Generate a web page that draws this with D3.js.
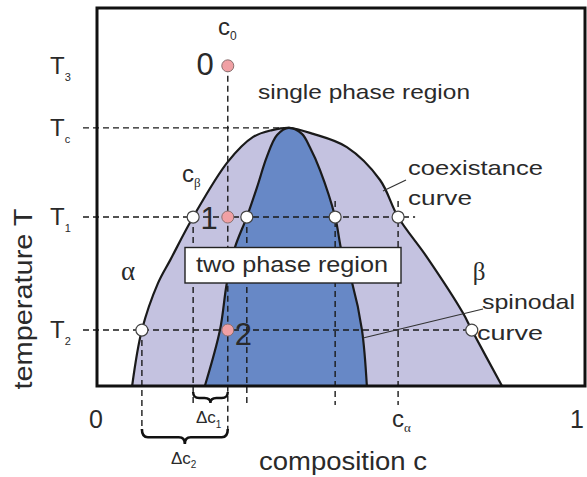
<!DOCTYPE html>
<html>
<head>
<meta charset="utf-8">
<script src="https://cdn.jsdelivr.net/npm/d3@7"></script>
<style>
  html, body { margin: 0; padding: 0; background: #fff; }
  svg { display: block; }
  text { font-family: "Liberation Sans", Arial, sans-serif; fill: #2a2a2a; }
  .serif { font-family: "Liberation Serif", "DejaVu Serif", serif; }
</style>
</head>
<body>
<script>
// Miscibility gap: coexistence (binodal) and spinodal curves, composition c vs temperature T
const coexistenceCurve = [
  [0.072, 0.000], [0.092, 0.148], [0.125, 0.272], [0.150, 0.333], [0.197, 0.447],
  [0.268, 0.593], [0.320, 0.659], [0.359, 0.677], [0.393, 0.683], [0.443, 0.667],
  [0.512, 0.632], [0.580, 0.545], [0.617, 0.447], [0.676, 0.341], [0.750, 0.193],
  [0.768, 0.148], [0.830, 0.000]
];
const spinodalCurve = [
  [0.221, 0.000], [0.252, 0.148], [0.266, 0.272], [0.283, 0.368], [0.307, 0.447],
  [0.328, 0.526], [0.348, 0.606], [0.369, 0.664], [0.393, 0.683], [0.420, 0.667],
  [0.436, 0.632], [0.457, 0.571], [0.488, 0.447], [0.502, 0.352], [0.523, 0.272],
  [0.543, 0.148], [0.553, 0.000]
];

// temperature levels and their labels
const tempNames  = ["3", "c", "1", "2"];
const tempValues = [0.847, 0.683, 0.447, 0.148];
const T3 = tempValues[0], Tc = tempValues[1], T1 = tempValues[2], T2 = tempValues[3];
const cPeak = 0.393;

// alloy composition and the phase-boundary compositions at T1 and T2
const c0 = 0.268;
const boundaryT1 = [0.197, 0.307, 0.488, 0.617];   // c_beta, spinodal left, spinodal right, c_alpha
const boundaryT2 = [0.092, 0.768];
const statePoints = [ {name: "0", T: T3}, {name: "1", T: T1}, {name: "2", T: T2} ];

const W = 587, H = 477;
const svg = d3.select("body").append("svg").attr("width", W).attr("height", H);

const x = d3.scaleLinear().domain([0, 1]).range([97, 585]);
const y = d3.scaleLinear().domain([0, 1]).range([386, 8]);

const line = d3.line().x(d => x(d[0])).y(d => y(d[1])).curve(d3.curveCatmullRom.alpha(0.5));

// filled regions
svg.append("path").attr("d", line(coexistenceCurve) + "Z").attr("fill", "#c4c2e0");
svg.append("path").attr("d", line(spinodalCurve) + "Z").attr("fill", "#6788c6");
// curve outlines
svg.append("path").attr("d", line(coexistenceCurve)).attr("fill", "none")
  .attr("stroke", "#1a1a1a").attr("stroke-width", 2.2);
svg.append("path").attr("d", line(spinodalCurve)).attr("fill", "none")
  .attr("stroke", "#1a1a1a").attr("stroke-width", 2.2);

const dash = g => g.attr("stroke", "#1a1a1a").attr("stroke-width", 1.4)
  .attr("stroke-dasharray", "6,4").attr("fill", "none");

// horizontal guide lines
const axisLeft = x(0) - 14;
svg.append("line").call(dash).attr("x1", axisLeft).attr("x2", x(cPeak)).attr("y1", y(Tc)).attr("y2", y(Tc));
svg.append("line").call(dash).attr("x1", axisLeft).attr("x2", x(boundaryT1[3]) + 17).attr("y1", y(T1)).attr("y2", y(T1));
svg.append("line").call(dash).attr("x1", axisLeft).attr("x2", x(boundaryT2[1])).attr("y1", y(T2)).attr("y2", y(T2));

// vertical guide lines
svg.append("line").call(dash).attr("x1", x(c0)).attr("x2", x(c0)).attr("y1", y(T3)).attr("y2", 430);
svg.append("line").call(dash).attr("x1", x(boundaryT2[0])).attr("x2", x(boundaryT2[0])).attr("y1", y(T2)).attr("y2", 430);
boundaryT1.forEach((c, i) => {
  svg.append("line").call(dash).attr("x1", x(c)).attr("x2", x(c))
    .attr("y1", i >= 2 ? y(T1) - 16 : y(T1)).attr("y2", 405);
});

// leader lines
svg.append("line").attr("x1", 383).attr("y1", 191).attr("x2", 406).attr("y2", 180)
  .attr("stroke", "#333").attr("stroke-width", 1.2);
svg.append("line").attr("x1", 363).attr("y1", 338).attr("x2", 483).attr("y2", 309)
  .attr("stroke", "#333").attr("stroke-width", 1.2);

// two phase region box
svg.append("rect").attr("x", 185).attr("y", 247.5).attr("width", 216).attr("height", 35.5)
  .attr("fill", "#fff").attr("stroke", "#222").attr("stroke-width", 1.4);
svg.append("text").attr("x", 196).attr("y", 272).attr("font-size", 22)
  .attr("textLength", 192).attr("lengthAdjust", "spacingAndGlyphs").text("two phase region");

// boundary points
const whitePts = boundaryT1.map(c => [c, T1]).concat(boundaryT2.map(c => [c, T2]));
svg.selectAll("circle.bd").data(whitePts).enter().append("circle").attr("class", "bd")
  .attr("cx", d => x(d[0])).attr("cy", d => y(d[1])).attr("r", 6)
  .attr("fill", "#fff").attr("stroke", "#444").attr("stroke-width", 1.2);
// state points of the alloy
svg.selectAll("circle.st").data(statePoints).enter().append("circle").attr("class", "st")
  .attr("cx", x(c0)).attr("cy", d => y(d.T)).attr("r", 6)
  .attr("fill", "#f0a0a4").attr("stroke", "#8a7070").attr("stroke-width", 1);

// state numbers
svg.append("text").attr("x", x(c0) - 14).attr("y", y(T3) + 9).attr("text-anchor", "end")
  .attr("font-size", 31).text(statePoints[0].name);
svg.append("text").attr("x", x(c0) - 10).attr("y", y(T1) + 12).attr("text-anchor", "end")
  .attr("font-size", 31).text(statePoints[1].name);
svg.append("text").attr("x", x(c0) + 7).attr("y", y(T2) + 15).attr("text-anchor", "start")
  .attr("font-size", 31).text(statePoints[2].name);

// label with subscript
function subLabel(px, py, main, sub, size, subSize, subDy, cls) {
  const t = svg.append("text").attr("x", px).attr("y", py).attr("font-size", size);
  if (cls) t.attr("class", cls);
  t.append("tspan").text(main);
  t.append("tspan").attr("font-size", subSize).attr("dy", subDy).text(sub);
  return t;
}

// temperature labels
tempNames.forEach((n, i) => {
  subLabel(50, y(tempValues[i]) + 8, "T", n, 24, 11, 7);
});

// composition markers
subLabel(218, 35, "c", "0", 24, 12, 5);
const cb = svg.append("text").attr("x", 182).attr("y", 182).attr("font-size", 24);
cb.append("tspan").text("c");
cb.append("tspan").attr("font-size", 13).attr("dy", 5).attr("class", "serif").text("β");
const ca = svg.append("text").attr("x", 392).attr("y", 427).attr("font-size", 24);
ca.append("tspan").text("c");
ca.append("tspan").attr("font-size", 13).attr("dy", 5).attr("class", "serif").text("α");

// region and curve names
svg.append("text").attr("x", 258).attr("y", 99).attr("font-size", 21)
  .attr("textLength", 212).attr("lengthAdjust", "spacingAndGlyphs").text("single phase region");
svg.append("text").attr("x", 408).attr("y", 175).attr("font-size", 21)
  .attr("textLength", 135).attr("lengthAdjust", "spacingAndGlyphs").text("coexistance");
svg.append("text").attr("x", 408).attr("y", 205).attr("font-size", 21)
  .attr("textLength", 64).attr("lengthAdjust", "spacingAndGlyphs").text("curve");
svg.append("text").attr("x", 482).attr("y", 309).attr("font-size", 21)
  .attr("textLength", 93).attr("lengthAdjust", "spacingAndGlyphs").text("spinodal");
svg.append("text").attr("x", 477).attr("y", 340).attr("font-size", 21)
  .attr("textLength", 66).attr("lengthAdjust", "spacingAndGlyphs").text("curve");
svg.append("text").attr("class", "serif").attr("x", 128).attr("y", 280).attr("text-anchor", "middle")
  .attr("font-size", 27).text("α");
svg.append("text").attr("class", "serif").attr("x", 479).attr("y", 280).attr("text-anchor", "middle")
  .attr("font-size", 25).text("β");

// braces for the composition differences
function brace(x1, x2, yTop, h) {
  const xm = (x1 + x2) / 2, q = 6, ym = yTop + h * 0.55;
  return `M${x1},${yTop} Q${x1},${ym} ${x1 + q},${ym} L${xm - q},${ym} Q${xm},${ym} ${xm},${yTop + h}` +
         ` Q${xm},${ym} ${xm + q},${ym} L${x2 - q},${ym} Q${x2},${ym} ${x2},${yTop}`;
}
svg.append("path").attr("d", brace(x(boundaryT1[0]), x(c0), 392, 11))
  .attr("fill", "none").attr("stroke", "#111").attr("stroke-width", 2.4);
svg.append("path").attr("d", brace(x(boundaryT2[0]), x(c0), 429, 15))
  .attr("fill", "none").attr("stroke", "#111").attr("stroke-width", 2.6);
subLabel(196, 423, "Δc", "1", 17, 10, 5);
subLabel(171, 464, "Δc", "2", 17, 10, 4);

// axis end labels and titles
svg.append("text").attr("x", x(0) - 1).attr("y", 428).attr("text-anchor", "middle").attr("font-size", 25).text("0");
svg.append("text").attr("x", x(1) - 8).attr("y", 428).attr("text-anchor", "middle").attr("font-size", 25).text("1");
svg.append("text").attr("x", 259).attr("y", 470).attr("font-size", 25)
  .attr("textLength", 168).attr("lengthAdjust", "spacingAndGlyphs").text("composition c");
svg.append("text").attr("transform", "translate(32,299) rotate(-90)").attr("text-anchor", "middle")
  .attr("font-size", 26).attr("textLength", 181).attr("lengthAdjust", "spacingAndGlyphs").text("temperature T");

// frame
svg.append("path").attr("d", `M${x(0)},${y(1)} H${x(1)} V${y(0)} H${x(0)} Z`)
  .attr("fill", "none").attr("stroke", "#111").attr("stroke-width", 3);
</script>
</body>
</html>
